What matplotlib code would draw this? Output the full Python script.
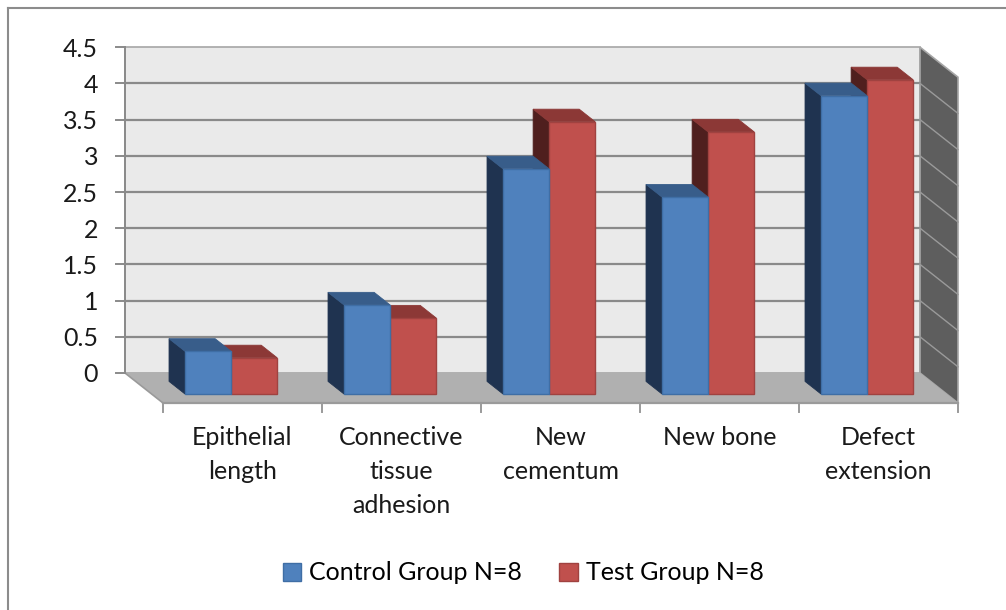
import matplotlib
matplotlib.use("Agg")
import matplotlib.pyplot as plt
from matplotlib.patches import Polygon, Patch
from matplotlib.lines import Line2D

# ---------------- data ----------------
categories = ["Epithelial\nlength", "Connective\ntissue\nadhesion", "New\ncementum",
              "New bone", "Defect\nextension"]
control = [0.59, 1.23, 3.11, 2.72, 4.12]
test = [0.50, 1.05, 3.76, 3.62, 4.34]
series_names = ["Control Group N=8", "Test Group N=8"]
y_ticks = [0, 0.5, 1, 1.5, 2, 2.5, 3, 3.5, 4, 4.5]
y_tick_labels = ["0", "0.5", "1", "1.5", "2", "2.5", "3", "3.5", "4", "4.5"]

# ---------------- style ----------------
FONT = ["Lato", "DejaVu Sans"]
plt.rcParams["font.family"] = FONT
W, H = 1006, 610
fig = plt.figure(figsize=(W / 100, H / 100), dpi=100)
ax = fig.add_axes([0, 0, 1, 1])
ax.set_axis_off()

# pixel geometry of the 3-D frame (layout only)
X0_PX, CAT_PX = 163.0, 159.0      # front floor edge start, width of a category
Y0_PX, UNIT_PX = 403.0, 72.4      # front floor edge y, pixels per value unit
DEPTH_DX, DEPTH_DY = -38.0, 30.0  # screen offset from front to back of floor

ax.set_xlim(-X0_PX / CAT_PX, (W - X0_PX) / CAT_PX)
ax.set_ylim((Y0_PX - H) / UNIT_PX, Y0_PX / UNIT_PX)

DX = DEPTH_DX / CAT_PX
DV = DEPTH_DY / UNIT_PX
n = len(categories)
vmax = y_ticks[-1]


def P(x, v, d):
    return (x + DX * d, v + DV * d)


def px_x(px):
    return (px - X0_PX) / CAT_PX


def px_y(py):
    return (Y0_PX - py) / UNIT_PX


grid_c = "#8a8a8a"
# back wall
ax.add_patch(Polygon([P(0, 0, 1), P(n, 0, 1), P(n, vmax, 1), P(0, vmax, 1)],
                     closed=True, facecolor="#eaeaea", edgecolor="#a6a6a6", lw=1.2, zorder=1))
# right side wall
ax.add_patch(Polygon([P(n, 0, 1), P(n, 0, 0), P(n, vmax, 0), P(n, vmax, 1)],
                     closed=True, facecolor="#5e5e5e", edgecolor="#a6a6a6", lw=1.2, zorder=1))
# gridlines on back wall and right wall
for t in y_ticks[1:-1]:
    a, b = P(0, t, 1), P(n, t, 1)
    ax.add_line(Line2D([a[0], b[0]], [a[1], b[1]], color=grid_c, lw=1.6, zorder=2))
    c = P(n, t, 0)
    ax.add_line(Line2D([b[0], c[0]], [b[1], c[1]], color="#9a9a9a", lw=1.0, zorder=2))
# floor
ax.add_patch(Polygon([P(0, 0, 1), P(n, 0, 1), P(n, 0, 0), P(0, 0, 0)],
                     closed=True, facecolor="#b0b0b0", edgecolor="none", zorder=2))
# floor edges
a, b = P(0, 0, 1), P(0, 0, 0)
ax.add_line(Line2D([a[0], b[0]], [a[1], b[1]], color="#9a9a9a", lw=1.2, zorder=3))
a, b = P(0, 0, 0), P(n, 0, 0)
ax.add_line(Line2D([a[0], b[0]], [a[1], b[1]], color="#9a9a9a", lw=1.6, zorder=3))
for i in range(n + 1):
    ax.add_line(Line2D([i, i], [0, -9 / UNIT_PX], color="#9a9a9a", lw=1.4, zorder=3))
# value axis line + ticks
a, b = P(0, 0, 1), P(0, vmax, 1)
ax.add_line(Line2D([a[0], b[0]], [a[1], b[1]], color="#8a8a8a", lw=1.4, zorder=3))
for t, lab in zip(y_ticks, y_tick_labels):
    p = P(0, t, 1)
    ax.add_line(Line2D([p[0] - 9 / CAT_PX, p[0]], [p[1], p[1]], color="#8a8a8a", lw=1.4, zorder=3))
    ax.text(px_x(98), p[1] - 2 / UNIT_PX, lab, ha="right", va="center",
            fontsize=18, color="#1a1a1a", zorder=5)

# bars
BAR_W = 0.29
D_FRONT, D_BACK = 0.30, 0.72
styles = [
    dict(front="#4f81bd", top="#385d8a", side="#1f3350", edge="#3f6ea5"),
    dict(front="#c0504d", top="#8c3836", side="#4f1f1e", edge="#a04240"),
]
offsets = [-BAR_W, 0.0]


def draw_bar(xl, v, st, z):
    xr = xl + BAR_W
    # left side face
    ax.add_patch(Polygon([P(xl, 0, D_FRONT), P(xl, 0, D_BACK), P(xl, v, D_BACK), P(xl, v, D_FRONT)],
                         closed=True, facecolor=st["side"], edgecolor=st["side"], lw=0.6, zorder=z))
    # top face
    ax.add_patch(Polygon([P(xl, v, D_FRONT), P(xl, v, D_BACK), P(xr, v, D_BACK), P(xr, v, D_FRONT)],
                         closed=True, facecolor=st["top"], edgecolor=st["top"], lw=0.6, zorder=z))
    # front face
    fx, fy = P(xl, 0, D_FRONT)
    ax.bar(fx, v, width=BAR_W, bottom=fy, align="edge", color=st["front"],
           edgecolor=st["edge"], linewidth=1.0, zorder=z + 0.5)


for i in range(n):
    c = i + 0.5
    draw_bar(c + offsets[1], test[i], styles[1], 4)
    draw_bar(c + offsets[0], control[i], styles[0], 4.6)

# category labels
for i, lab in enumerate(categories):
    ax.text(i + 0.5, px_y(426), lab, ha="center", va="top", fontsize=18,
            color="#1a1a1a", linespacing=1.58, zorder=5)

# legend
handles = [Patch(facecolor=styles[k]["front"], edgecolor=styles[k]["edge"]) for k in range(2)]
fig.legend(handles, series_names, loc="center", bbox_to_anchor=(523 / W, 1 - 573 / H),
           ncol=2, frameon=False, fontsize=18, handlelength=0.75, handleheight=0.75,
           handletextpad=0.3, columnspacing=1.5, borderpad=0)

# outer chart border
fig.add_artist(Line2D([8 / W, 1.0], [1 - 8 / H, 1 - 8 / H], transform=fig.transFigure,
                      color="#8c8c8c", lw=1.5))
fig.add_artist(Line2D([8 / W, 8 / W], [1 - 8 / H, 0], transform=fig.transFigure,
                      color="#8c8c8c", lw=1.5))

fig.savefig("out.png", dpi=100, facecolor="white")
